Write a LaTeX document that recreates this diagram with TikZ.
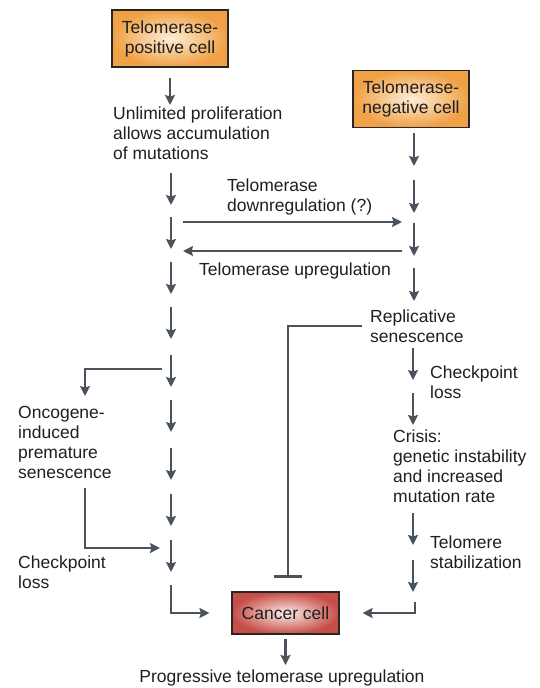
\documentclass[tikz,border=0pt]{standalone}
\usepackage{fontspec}
\setmainfont{Liberation Sans}
\usetikzlibrary{arrows.meta}
\definecolor{arrowgrey}{HTML}{4A535C}
\definecolor{orangeedge}{HTML}{F0A045}
\definecolor{orangecore}{HTML}{FDEED6}
\definecolor{rededge}{HTML}{C64E48}
\definecolor{redcore}{HTML}{FBECE8}

\begin{document}
\begin{tikzpicture}[x=1pt,y=-1pt,
    every node/.style={font=\fontsize{17.5}{20}\selectfont, text=black!88},
    txt/.style={anchor=north west, align=left, inner sep=0pt},
    cellbox/.style={draw=black!85, line width=1.1pt, inner sep=0pt, align=center},
    orangecell/.style={cellbox, minimum width=116pt, minimum height=57pt,
        inner color=orangecore, outer color=orangeedge},
    redcell/.style={cellbox, minimum width=107pt, minimum height=42pt,
        inner color=redcore, outer color=rededge},
    flow/.style={draw=arrowgrey, line width=2.6pt},
    arr/.style={flow, -{Stealth[length=10pt,width=10pt,inset=1.5pt]}}
  ]
  \useasboundingbox (0,0) rectangle (539,688);

  % the two starting cells
  \node[orangecell] (poscell) at (170,38.5) {Telomerase-\\positive cell};
  \node[orangecell] (negcell) at (411,99) {Telomerase-\\negative cell};
  \node[redcell] (cancer) at (285.5,613) {Cancer cell};

  % labels
  \node[txt] (unlimited) at (113,107) {Unlimited proliferation\\allows accumulation\\of mutations};
  \node[txt] (downreg) at (227,179) {Telomerase\\downregulation (?)};
  \node[txt] (upreg) at (199,263) {Telomerase upregulation};
  \node[txt] (replic) at (370,310) {Replicative\\senescence};
  \node[txt] (chkright) at (430,366) {Checkpoint\\loss};
  \node[txt] (crisis) at (393,430) {Crisis:\\genetic instability\\and increased\\mutation rate};
  \node[txt] (stabil) at (430,536) {Telomere\\stabilization};
  \node[txt] (oncogene) at (18,406) {Oncogene-\\induced\\premature\\senescence};
  \node[txt] (chkleft) at (18,556) {Checkpoint\\loss};
  \node[anchor=north, inner sep=0pt] (progress) at (282,670) {Progressive telomerase upregulation};

  % left column
  \draw[arr, shorten <=10pt, shorten >=2pt] (poscell.south) -- (poscell.south |- unlimited.north);
  \foreach \y [count=\i] in {173,217,262,307,355,400,448,494,540} {
    \coordinate (la\i) at (171,\y);
    \coordinate (lb\i) at (171,\y+32);
    \draw[arr] (la\i) -- (lb\i);
  }
  \coordinate (lastleft) at (171,585);
  \draw[arr, shorten >=22pt] (lastleft) |- (cancer.west);

  % oncogene branch
  \coordinate (branchout) at (162,369);
  \coordinate (branchdown) at (85,396);
  \draw[arr] (branchout) -| (branchdown);
  \coordinate (branchback) at (85,488);
  \coordinate (branchin) at (160,548);
  \draw[arr] (branchback) |- (branchin);

  % right column
  \foreach \y [count=\i] in {133,180,223,268} {
    \coordinate (ra\i) at (414,\y);
    \coordinate (rb\i) at (414,\y+33);
    \draw[arr] (ra\i) -- (rb\i);
  }
  \foreach \y [count=\i] in {348,393,513,560} {
    \coordinate (sa\i) at (413,\y);
    \coordinate (sb\i) at (413,\y+32);
    \draw[arr] (sa\i) -- (sb\i);
  }
  \coordinate (lastright) at (415,602);
  \draw[arr, shorten >=23pt] (lastright) |- (cancer.east);

  % exchange between the columns
  \coordinate (downstart) at (183,222);
  \coordinate (downend) at (402,222);
  \draw[arr] (downstart) -- (downend);
  \coordinate (upstart) at (402,251);
  \coordinate (upend) at (183,251);
  \draw[arr] (upstart) -- (upend);

  % senescence blocks the way to cancer
  \coordinate (blockstart) at (362,326);
  \coordinate (blockend) at (288,578);
  \draw[flow, -{Bar[width=28pt]}] (blockstart) -| (blockend);

  \draw[arr, shorten <=4pt, shorten >=5pt] (cancer.south) -- (cancer.south |- progress.north);
\end{tikzpicture}
\end{document}
